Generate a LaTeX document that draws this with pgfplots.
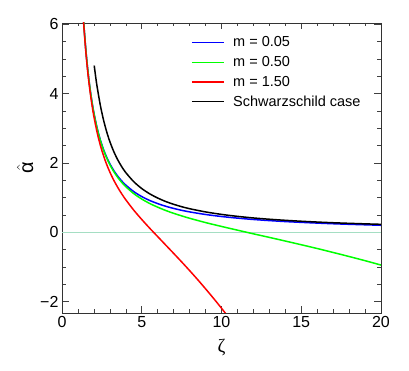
\documentclass[border=0pt]{standalone}
\usepackage{pgfplots}
\pgfplotsset{compat=1.18}
\usepackage{amsmath}
\usepackage{fontspec}
\setmainfont{Liberation Sans}
\newfontfamily\greekserif{Liberation Serif}

\definecolor{zeroline}{RGB}{165,222,195}

\begin{document}
\begin{tikzpicture}
\begin{axis}[
  scale only axis, width=319pt, height=290pt,
  xmin=0, xmax=20, ymin=-2.33, ymax=6.04,
  xtick={0,5,10,15,20},
  ytick={-2,0,2,4,6},
  yticklabels={−2,0,2,4,6},
  minor x tick num=4, minor y tick num=3,
  tick align=inside,
  major tick length=6.5pt, minor tick length=3.5pt,
  axis line style={black!80, line width=0.8pt},
  every tick/.style={black!75, line width=0.6pt},
  tick label style={font=\fontsize{16}{19}\selectfont},
  /pgf/number format/assume math mode=true,
  xlabel={\greekserif\fontsize{19}{22}\selectfont ζ},
  xlabel style={yshift=-4pt},
  ylabel={\fontsize{20}{23}\selectfont$\hat{\text{α}}$},
  legend style={draw=none, fill=none, at={(0.395,0.965)}, anchor=north west,
    font=\fontsize{14.5}{17}\selectfont, row sep=5pt, column sep=7pt,
    nodes={inner sep=1.5pt}},
  legend cell align=left,
  legend image code/.code={\draw[#1, line width=1.5pt] (0pt,0pt) -- (32pt,0pt);},
  every axis plot/.append style={line width=1.5pt},
]
\addplot[forget plot, zeroline, line width=0.8pt] coordinates {(0,0) (20,0)};

\addplot[blue, smooth] coordinates {
(1.34,6.204) (1.4,5.806) (1.5,5.236) (1.6,4.758) (1.7,4.353) (1.8,4.006) (1.9,3.706) (2.0,3.445)
(2.2,3.012) (2.4,2.670) (2.6,2.393) (2.8,2.166) (3.0,1.975) (3.25,1.778) (3.5,1.614) (3.75,1.477)
(4.0,1.361) (4.5,1.173) (5.0,1.030) (5.5,0.917) (6.0,0.827) (6.5,0.751) (7.0,0.688) (7.5,0.634)
(8,0.588) (9,0.513) (10,0.455) (11,0.408) (12,0.369) (13,0.337) (14,0.309) (15,0.286) (16,0.265)
(17,0.246) (18,0.230) (19,0.216) (20,0.202)};
\addlegendentry{m = 0.05}

\addplot[green, smooth] coordinates {
(1.34,6.199) (1.4,5.800) (1.5,5.229) (1.6,4.751) (1.7,4.345) (1.8,3.997) (1.9,3.696) (2.0,3.433)
(2.2,2.998) (2.4,2.653) (2.6,2.373) (2.8,2.143) (3.0,1.949) (3.25,1.747) (3.5,1.579) (3.75,1.437)
(4.0,1.315) (4.5,1.115) (5.0,0.959) (5.5,0.830) (6.0,0.724) (6.5,0.629) (7.0,0.547) (7.5,0.473)
(8,0.404) (9,0.280) (10,0.168) (11,0.061) (12,-0.045) (13,-0.148) (14,-0.253) (15,-0.360)
(16,-0.469) (17,-0.583) (18,-0.700) (19,-0.820) (20,-0.946)};
\addlegendentry{m = 0.50}

\addplot[red, smooth] coordinates {
(1.34,6.156) (1.4,5.754) (1.5,5.176) (1.6,4.690) (1.7,4.276) (1.8,3.920) (1.9,3.610) (2.0,3.339)
(2.2,2.884) (2.4,2.517) (2.6,2.214) (2.8,1.958) (3.0,1.737) (3.25,1.498) (3.5,1.290) (3.75,1.105)
(4.0,0.937) (4.5,0.637) (5.0,0.369) (5.5,0.116) (6.0,-0.126) (6.5,-0.368) (7.0,-0.610) (7.5,-0.855)
(8,-1.106) (8.5,-1.364) (9,-1.632) (9.5,-1.907) (10,-2.192) (10.5,-2.489)};
\addlegendentry{m = 1.50}

\addplot[black, smooth] coordinates {
(2.02,4.811) (2.1,4.524) (2.2,4.204) (2.4,3.672) (2.6,3.247) (2.8,2.902) (3.0,2.616) (3.25,2.324)
(3.5,2.086) (3.75,1.888) (4.0,1.722) (4.5,1.459) (5.0,1.262) (5.5,1.109) (6.0,0.988) (6.5,0.888)
(7.0,0.807) (7.5,0.738) (8,0.680) (9,0.587) (10,0.516) (11,0.459) (12,0.413) (13,0.376) (14,0.345)
(15,0.318) (16,0.295) (17,0.275) (18,0.258) (19,0.243) (20,0.229)};
\addlegendentry{Schwarzschild case}

\coordinate (bl) at (rel axis cs:-0.1944,-0.2);
\coordinate (tr) at (rel axis cs:1.0878,1.0793);
\end{axis}
\path (bl) rectangle (tr);
\end{tikzpicture}
\end{document}
